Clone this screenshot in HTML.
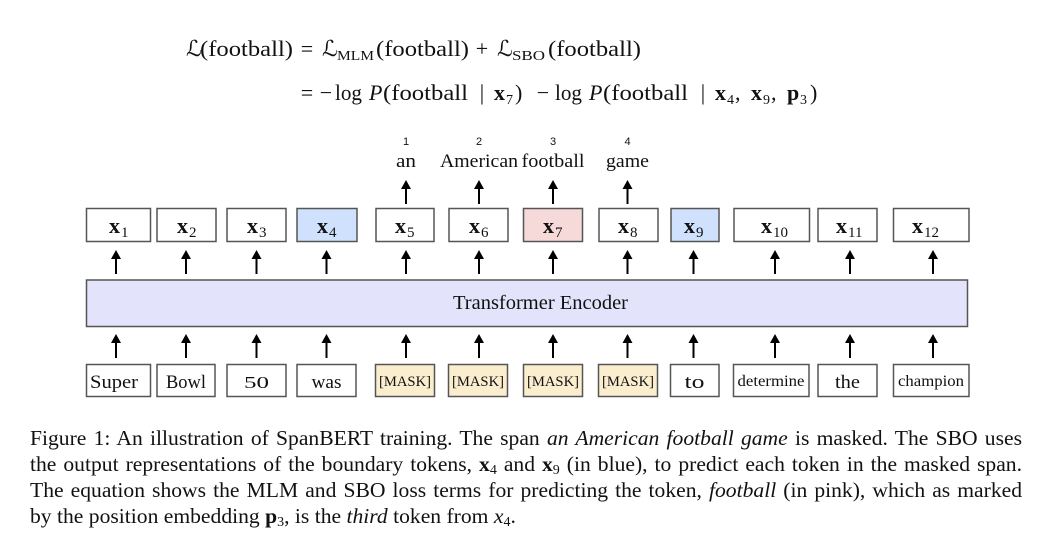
<!DOCTYPE html>
<html><head><meta charset="utf-8"><style>
html,body{margin:0;padding:0;background:#fff;}
body{width:1042px;height:549px;position:relative;overflow:hidden;}
svg{position:absolute;left:0;top:0;}
.cap{position:absolute;left:30px;width:992px;font-family:"Liberation Serif",serif;font-size:21.6px;line-height:26px;color:#111;text-align:justify;text-align-last:justify;white-space:nowrap;}
.cap.last{text-align:left;text-align-last:left;}
.sb{font-size:14px;position:relative;top:3px;}
</style></head><body>
<svg width="1042" height="549" viewBox="0 0 1042 549" xmlns="http://www.w3.org/2000/svg">
<defs>
<g id="ar"><line x1="0" y1="7" x2="0" y2="24" stroke="#000" stroke-width="2"/><polygon points="0,0 -5,9 5,9" fill="#000"/></g>
</defs>
<g font-family="Liberation Serif, DejaVu Serif, serif" fill="#111">
<!-- equation line 1 -->
<g font-size="22">
<text x="186" y="56">ℒ</text>
<text x="200" y="56" textLength="93" lengthAdjust="spacingAndGlyphs">(football)</text>
<text x="307" y="56" text-anchor="middle">=</text>
<text x="322" y="56">ℒ</text>
<text x="337" y="60" font-size="14" textLength="37" lengthAdjust="spacingAndGlyphs">MLM</text>
<text x="376" y="56" textLength="93" lengthAdjust="spacingAndGlyphs">(football)</text>
<text x="482" y="56" text-anchor="middle">+</text>
<text x="497" y="56">ℒ</text>
<text x="512" y="60" font-size="14" textLength="33" lengthAdjust="spacingAndGlyphs">SBO</text>
<text x="548" y="56" textLength="93" lengthAdjust="spacingAndGlyphs">(football)</text>
</g>
<!-- equation line 2 -->
<g font-size="22">
<text x="307" y="100" text-anchor="middle">=</text>
<text x="326" y="100" text-anchor="middle">−</text>
<text x="335" y="100" textLength="27" lengthAdjust="spacingAndGlyphs">log</text>
<text x="369" y="100" font-style="italic">P</text>
<text x="383" y="100" textLength="85" lengthAdjust="spacingAndGlyphs">(football</text>
<text x="482" y="100" text-anchor="middle">|</text>
<text x="494" y="100" font-weight="bold">x</text>
<text x="506" y="104" font-size="14">7</text>
<text x="515" y="100">)</text>
<text x="543" y="100" text-anchor="middle">−</text>
<text x="555" y="100" textLength="27" lengthAdjust="spacingAndGlyphs">log</text>
<text x="589" y="100" font-style="italic">P</text>
<text x="603" y="100" textLength="85" lengthAdjust="spacingAndGlyphs">(football</text>
<text x="703" y="100" text-anchor="middle">|</text>
<text x="715" y="100" font-weight="bold">x</text>
<text x="727" y="104" font-size="14">4</text>
<text x="735" y="100">,</text>
<text x="751" y="100" font-weight="bold">x</text>
<text x="763" y="104" font-size="14">9</text>
<text x="771" y="100">,</text>
<text x="787" y="100" font-weight="bold">p</text>
<text x="800" y="104" font-size="14">3</text>
<text x="810" y="100">)</text>
</g>
<!-- top numbers -->
<g font-family="Liberation Sans, DejaVu Sans, sans-serif" font-size="11" text-anchor="middle">
<text x="406" y="145">1</text>
<text x="479" y="145">2</text>
<text x="553" y="145">3</text>
<text x="627.5" y="145">4</text>
</g>
<g font-size="19" text-anchor="middle">
<text x="406" y="167" textLength="20" lengthAdjust="spacingAndGlyphs">an</text>
<text x="479" y="167" textLength="78" lengthAdjust="spacingAndGlyphs">American</text>
<text x="553" y="167" textLength="63" lengthAdjust="spacingAndGlyphs">football</text>
<text x="627.5" y="167" textLength="43" lengthAdjust="spacingAndGlyphs">game</text>
</g>
</g>
<!-- top arrows -->
<use href="#ar" x="406" y="180"/><use href="#ar" x="479" y="180"/><use href="#ar" x="553" y="180"/><use href="#ar" x="627.5" y="180"/>
<!-- top boxes -->
<g stroke="#555" stroke-width="1.5">
<rect x="86.5" y="208.5" width="64" height="33" fill="#fff"/>
<rect x="157" y="208.5" width="59" height="33" fill="#fff"/>
<rect x="227" y="208.5" width="59" height="33" fill="#fff"/>
<rect x="297" y="208.5" width="60" height="33" fill="#cfe1fd"/>
<rect x="376" y="208.5" width="58" height="33" fill="#fff"/>
<rect x="449" y="208.5" width="59" height="33" fill="#fff"/>
<rect x="523.5" y="208.5" width="59" height="33" fill="#f6d9d9"/>
<rect x="599" y="208.5" width="59" height="33" fill="#fff"/>
<rect x="671" y="208.5" width="48" height="33" fill="#cfe1fd"/>
<rect x="734" y="208.5" width="75.5" height="33" fill="#fff"/>
<rect x="818" y="208.5" width="59" height="33" fill="#fff"/>
<rect x="893.5" y="208.5" width="75.5" height="33" fill="#fff"/>
</g>
<g font-family="Liberation Serif, DejaVu Serif, serif" fill="#111">
<text x="109" y="233" font-size="22" font-weight="bold">x</text><text x="121" y="237" font-size="15">1</text>
<text x="177" y="233" font-size="22" font-weight="bold">x</text><text x="189" y="237" font-size="15">2</text>
<text x="247" y="233" font-size="22" font-weight="bold">x</text><text x="259" y="237" font-size="15">3</text>
<text x="317" y="233" font-size="22" font-weight="bold">x</text><text x="329" y="237" font-size="15">4</text>
<text x="395" y="233" font-size="22" font-weight="bold">x</text><text x="407" y="237" font-size="15">5</text>
<text x="469" y="233" font-size="22" font-weight="bold">x</text><text x="481" y="237" font-size="15">6</text>
<text x="543" y="233" font-size="22" font-weight="bold">x</text><text x="555" y="237" font-size="15">7</text>
<text x="618" y="233" font-size="22" font-weight="bold">x</text><text x="630" y="237" font-size="15">8</text>
<text x="684" y="233" font-size="22" font-weight="bold">x</text><text x="696" y="237" font-size="15">9</text>
<text x="761" y="233" font-size="22" font-weight="bold">x</text><text x="773" y="237" font-size="15">10</text>
<text x="836" y="233" font-size="22" font-weight="bold">x</text><text x="848" y="237" font-size="15">11</text>
<text x="912" y="233" font-size="22" font-weight="bold">x</text><text x="924" y="237" font-size="15">12</text>
</g>
<!-- middle arrows -->
<g>
<use href="#ar" x="116" y="250"/><use href="#ar" x="186" y="250"/><use href="#ar" x="256.5" y="250"/><use href="#ar" x="326.5" y="250"/>
<use href="#ar" x="406" y="250"/><use href="#ar" x="479" y="250"/><use href="#ar" x="553" y="250"/><use href="#ar" x="627.5" y="250"/>
<use href="#ar" x="693.5" y="250"/><use href="#ar" x="775" y="250"/><use href="#ar" x="850" y="250"/><use href="#ar" x="933" y="250"/>
</g>
<!-- encoder -->
<rect x="86.5" y="280" width="881" height="46.5" fill="#e3e3fb" stroke="#555" stroke-width="1.5"/>
<text x="540.5" y="309" font-family="Liberation Serif, DejaVu Serif, serif" font-size="19.5" text-anchor="middle" fill="#111" textLength="175" lengthAdjust="spacingAndGlyphs">Transformer Encoder</text>
<!-- lower arrows -->
<g>
<use href="#ar" x="116" y="334"/><use href="#ar" x="186" y="334"/><use href="#ar" x="256.5" y="334"/><use href="#ar" x="326.5" y="334"/>
<use href="#ar" x="406" y="334"/><use href="#ar" x="479" y="334"/><use href="#ar" x="553" y="334"/><use href="#ar" x="627.5" y="334"/>
<use href="#ar" x="693.5" y="334"/><use href="#ar" x="775" y="334"/><use href="#ar" x="850" y="334"/><use href="#ar" x="933" y="334"/>
</g>
<!-- bottom boxes -->
<g stroke="#555" stroke-width="1.5">
<rect x="86.5" y="364.5" width="64" height="32" fill="#fff"/>
<rect x="157" y="364.5" width="58" height="32" fill="#fff"/>
<rect x="227" y="364.5" width="59" height="32" fill="#fff"/>
<rect x="297" y="364.5" width="59" height="32" fill="#fff"/>
<rect x="375.5" y="364.5" width="59" height="32" fill="#fbeecf"/>
<rect x="448.5" y="364.5" width="59" height="32" fill="#fbeecf"/>
<rect x="523.5" y="364.5" width="59" height="32" fill="#fbeecf"/>
<rect x="598.5" y="364.5" width="59" height="32" fill="#fbeecf"/>
<rect x="670.5" y="364.5" width="48.5" height="32" fill="#fff"/>
<rect x="733.5" y="364.5" width="75.5" height="32" fill="#fff"/>
<rect x="818" y="364.5" width="59" height="32" fill="#fff"/>
<rect x="893.5" y="364.5" width="75.5" height="32" fill="#fff"/>
</g>
<g font-family="Liberation Serif, DejaVu Serif, serif" fill="#111" text-anchor="middle">
<text x="114" y="388" font-size="19" textLength="48" lengthAdjust="spacingAndGlyphs">Super</text>
<text x="186" y="388" font-size="19" textLength="40" lengthAdjust="spacingAndGlyphs">Bowl</text>
<text x="256.5" y="388" font-size="17" textLength="25" lengthAdjust="spacingAndGlyphs">50</text>
<text x="326.5" y="388" font-size="19" textLength="30" lengthAdjust="spacingAndGlyphs">was</text>
<text x="405" y="386" font-size="14.5" textLength="52" lengthAdjust="spacingAndGlyphs">[MASK]</text>
<text x="478" y="386" font-size="14.5" textLength="52" lengthAdjust="spacingAndGlyphs">[MASK]</text>
<text x="553" y="386" font-size="14.5" textLength="52" lengthAdjust="spacingAndGlyphs">[MASK]</text>
<text x="628" y="386" font-size="14.5" textLength="52" lengthAdjust="spacingAndGlyphs">[MASK]</text>
<text x="694.5" y="388" font-size="19" textLength="20" lengthAdjust="spacingAndGlyphs">to</text>
<text x="771" y="386" font-size="16" textLength="67" lengthAdjust="spacingAndGlyphs">determine</text>
<text x="847.5" y="388" font-size="19" textLength="25" lengthAdjust="spacingAndGlyphs">the</text>
<text x="931" y="386" font-size="16" textLength="66" lengthAdjust="spacingAndGlyphs">champion</text>
</g>
</svg>
<div class="cap" style="top:425px;">Figure 1: An illustration of SpanBERT training. The span <i>an American football game</i> is masked. The SBO uses</div>
<div class="cap" style="top:451px;">the output representations of the boundary tokens, <b>x</b><span class="sb">4</span> and <b>x</b><span class="sb">9</span> (in blue), to predict each token in the masked span.</div>
<div class="cap" style="top:477px;">The equation shows the MLM and SBO loss terms for predicting the token, <i>football</i> (in pink), which as marked</div>
<div class="cap last" style="top:503px;">by the position embedding <b>p</b><span class="sb">3</span>, is the <i>third</i> token from <i>x</i><span class="sb">4</span>.</div>
</body></html>
